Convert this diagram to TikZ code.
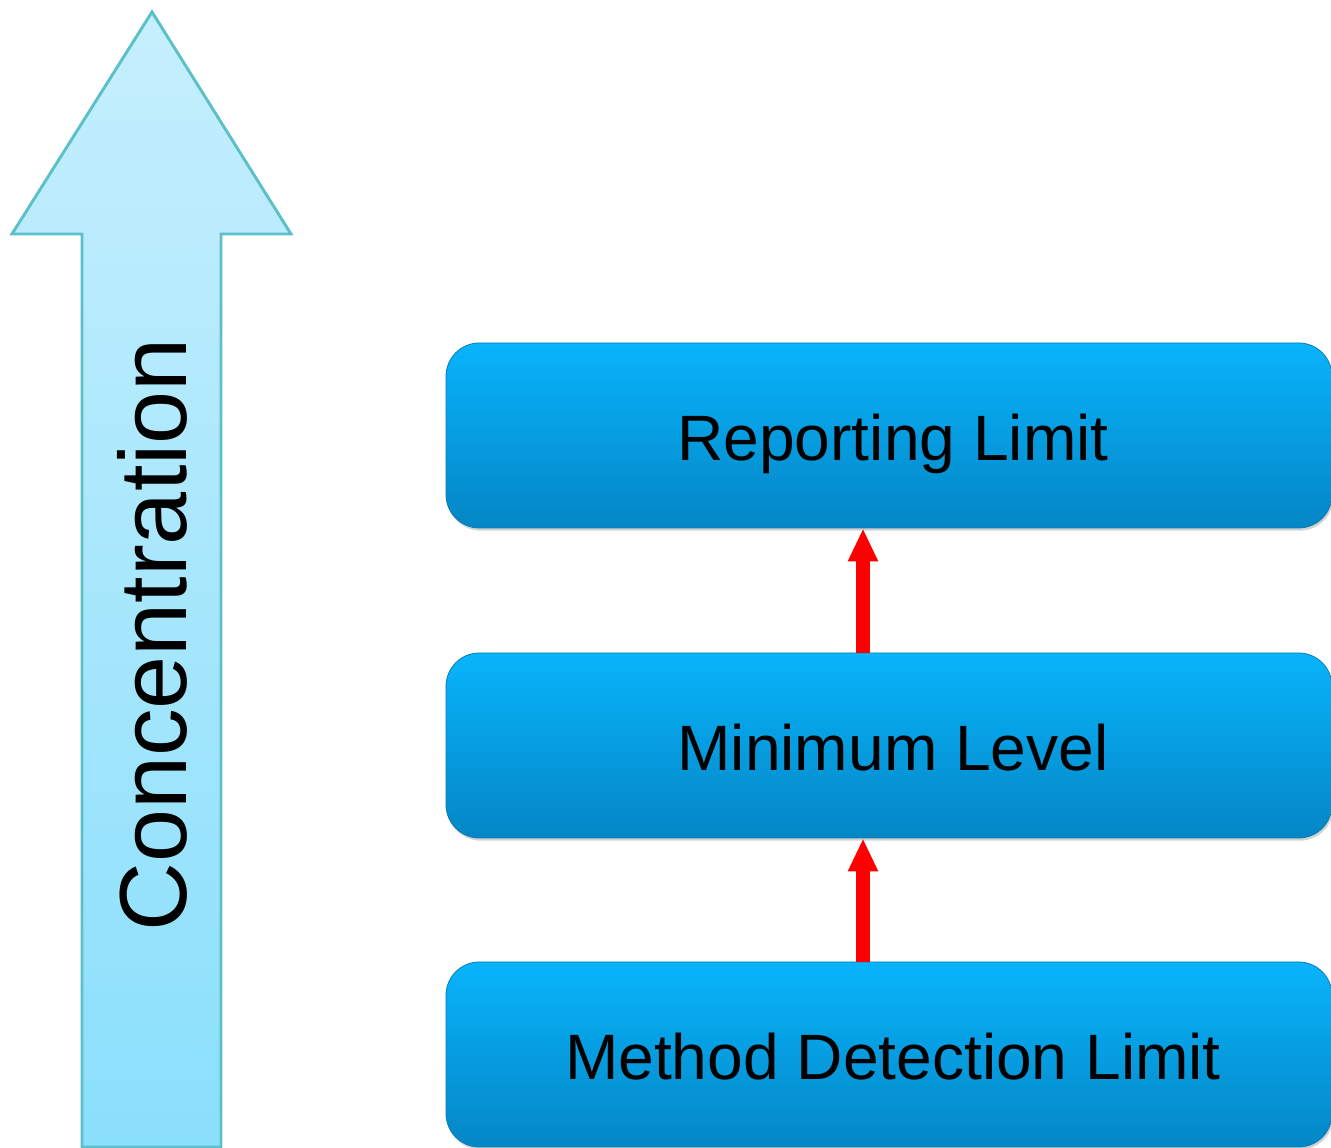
\documentclass[tikz,border=0pt]{standalone}
\usepackage{fontspec}
\setmainfont{Liberation Sans}
\usetikzlibrary{arrows.meta,shadows}
\definecolor{arrtop}{HTML}{C6EFFD}
\definecolor{arrbot}{HTML}{8ADFFC}
\definecolor{arredge}{HTML}{5BC0C8}
\definecolor{boxtop}{HTML}{08B4FB}
\definecolor{boxbot}{HTML}{0486C6}
\definecolor{boxedge}{HTML}{0A7DB2}
\definecolor{redarr}{HTML}{FF0000}
\newcommand\boxlabel[1]{\hspace*{6pt}#1}
\tikzset{
  levelbox/.style={rounded corners=25pt, minimum width=664.5pt, minimum height=138.75pt,
    top color=boxtop, bottom color=boxbot, draw=boxedge, line width=0.6pt,
    drop shadow={opacity=0.35, shadow xshift=1pt, shadow yshift=-2pt},
    font=\fontsize{48.1}{56}\selectfont, text=black, inner sep=0pt,
    text height=38pt, text depth=0pt},
  uparrow/.style={draw=arredge, line width=2.2pt, top color=arrtop, bottom color=arrbot},
  redup/.style={draw=redarr, line width=10.5pt, -{Triangle[width=21pt,length=24.75pt]}}
}
\begin{document}
\begin{tikzpicture}[x=0.75pt,y=0.75pt]
\useasboundingbox (0,0) rectangle (1331,1148);
% big concentration arrow
\path[uparrow] (82,1) -- (82,914) -- (12,914) -- (152,1136) -- (291,914) -- (221,914) -- (221,1) -- cycle;
\node[rotate=90, font=\fontsize{71.5}{80}\selectfont] (conc) at (152,513) {Concentration};
% boxes
\node[levelbox] (b1) at (889,712.5) {\boxlabel{Reporting Limit}};
\node[levelbox] (b2) at (889,402.5) {\boxlabel{Minimum Level}};
\node[levelbox] (b3) at (889,93.5) {\boxlabel{Method Detection Limit}};
% red arrows
\draw[redup] ([xshift=-19.5pt]b2.north) -- ([xshift=-19.5pt]b1.south);
\draw[redup] ([xshift=-19.5pt]b3.north) -- ([xshift=-19.5pt]b2.south);
\end{tikzpicture}
\end{document}
